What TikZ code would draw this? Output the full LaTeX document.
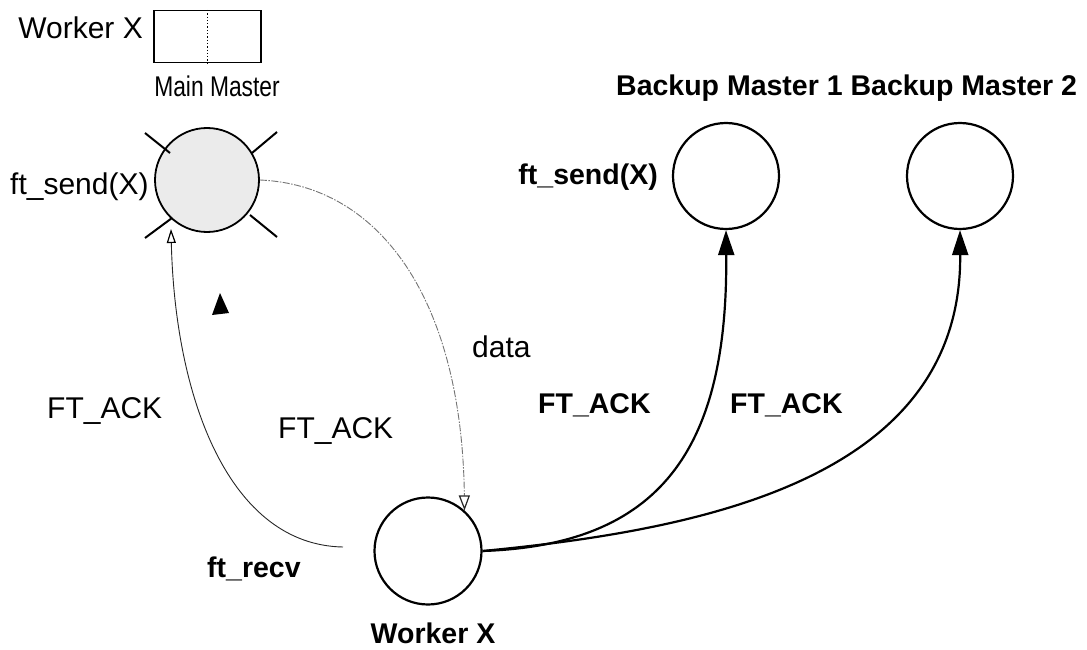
\documentclass[tikz,border=0pt]{standalone}
\usepackage{fontspec}
\setmainfont{Liberation Sans}
\usetikzlibrary{arrows.meta,calc}
\begin{document}
\begin{tikzpicture}[x=1pt,y=-1pt,
  nrm/.style={font=\fontsize{30}{32}\selectfont, inner sep=0pt},
  bld/.style={font=\fontsize{28.5}{32}\selectfont\bfseries, inner sep=0pt},
  proc/.style={circle, draw, line width=2.2pt, minimum size=106pt, inner sep=0pt},
  xline/.style={line width=2pt},
  ackline/.style={line width=0.9pt, draw=black!85, -{Triangle[open,length=14pt,width=9pt,line width=1.2pt,color=black]}},
  dataline/.style={line width=0.9pt, draw=black!55, dash pattern=on 7pt off 1.5pt on 1.5pt off 1.5pt, -{Triangle[open,length=15pt,width=11pt,line width=1.2pt,color=black!85]}},
  bigarr/.style={line width=2.2pt, -{Triangle[length=25pt,width=16pt]}}
]
\useasboundingbox (0,0) rectangle (1087,650);

% legend
\node[nrm, anchor=base east] (lgw) at (143,39) {Worker X};
\node[draw, line width=1.5pt, minimum width=107pt, minimum height=52pt, anchor=north west, inner sep=0pt] (leg) at (153,10) {};
\draw[dotted, line width=1.3pt] (leg.north) -- (leg.south);
\node[inner sep=0pt, anchor=base] (mmlbl) at (217,97) {\scalebox{0.8}[1]{\fontsize{28.5}{30}\selectfont Main Master}};

% main master (failed)
\node[proc, fill=black!8, line width=1.8pt, minimum size=104pt] (mm) at (207,180) {};
\draw[xline] ($(mm)+(-37,-27)$) -- ($(mm)+(-62,-47)$);
\draw[xline] ($(mm)+(45,-27)$) -- ($(mm)+(70,-48)$);
\draw[xline] ($(mm)+(-35,38)$) -- ($(mm)+(-62,58)$);
\draw[xline] ($(mm)+(43,35)$) -- ($(mm)+(70,57)$);
\node[nrm, anchor=base west] (fsl) at (10,194) {ft\_send(X)};

% marker triangle
\fill (220,293) -- (212,315) -- (229,313) -- cycle;

% backup masters
\node[proc] (bm1) at (726,176) {};
\node[proc] (bm2) at (960,176) {};
\node[bld, anchor=base west] (bmlbl) at (616,96) {Backup Master 1 Backup Master 2};
\node[bld, anchor=base east] (fsb) at (658,184) {ft\_send(X)};

% worker
\node[proc, minimum size=107pt] (wx) at (428,551) {};
\node[bld, anchor=base] (wxlbl) at (433,643) {Worker X};

% labels
\node[nrm, anchor=base west] (datal) at (472,357) {data};
\node[nrm, anchor=base west] (ack1) at (47,418) {FT\_ACK};
\node[nrm, anchor=base west] (ack2) at (278,438) {FT\_ACK};
\node[bld, anchor=base west] (ack3) at (538,413) {FT\_ACK};
\node[bld, anchor=base west] (ack4) at (730,413) {FT\_ACK};
\node[bld, anchor=base west] (recv) at (207,577) {ft\_recv};

% connectors
\coordinate (ackstart) at (343,547);
\coordinate (ackend) at (171,229);
\draw[ackline] (ackstart) .. controls (230,545) and (175,400) .. (ackend);
\draw[dataline] (mm.east) .. controls (380,185) and (462,300) .. (wx.48);
\draw[bigarr] (wx.east) .. controls (660,545) and (728,450) .. (bm1.south);
\draw[bigarr] (wx.east) .. controls (700,530) and (962,480) .. (bm2.south);
\end{tikzpicture}
\end{document}
